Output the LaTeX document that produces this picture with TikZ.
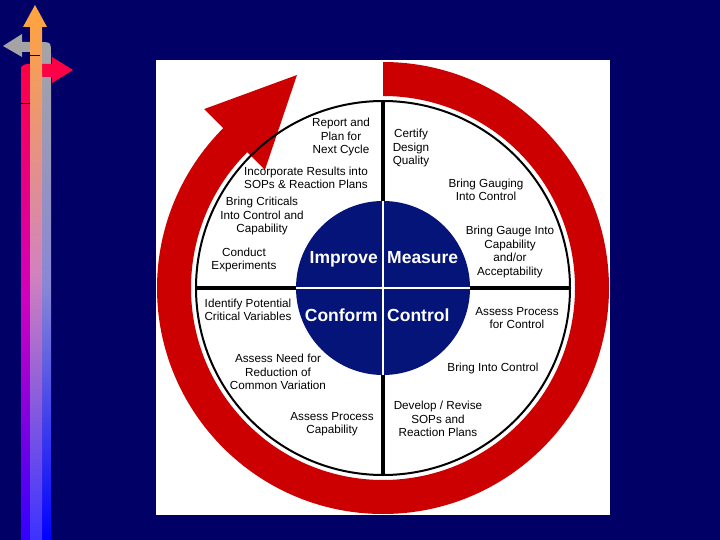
\documentclass[tikz,border=0pt]{standalone}
\usepackage{fontspec}
\setmainfont{Liberation Sans}
\definecolor{slidebg}{RGB}{0,0,102}
\definecolor{cyclered}{RGB}{204,0,0}
\definecolor{hubblue}{RGB}{5,20,120}
\tikzset{
  stage/.style={align=center, inner sep=0pt, font=\fontsize{11.7}{13.6}\selectfont},
  phase/.style={text=white, inner sep=0pt, font=\fontsize{17.5}{20}\selectfont\bfseries},
  spoke/.style={line width=3.5pt},
}
\begin{document}
\begin{tikzpicture}[x=1pt,y=-1pt]
\fill[slidebg] (0,0) rectangle (720,540);
% side bars
\shade[top color={rgb,255:red,165;green,165;blue,165}, bottom color={rgb,255:red,0;green,0;blue,255},
  middle color={rgb,255:red,135;green,135;blue,215}]
  (42,540) -- (42,52) -- (22,52) -- (22,57) -- (3,46) -- (22,34) -- (22,42) -- (39,42)
  .. controls (51,42) .. (51,54) -- (51,540) -- cycle;
\shade[top color={rgb,255:red,255;green,0;blue,64}, bottom color={rgb,255:red,50;green,0;blue,255},
  middle color={rgb,255:red,210;green,0;blue,190}]
  (21,540) -- (21,77) .. controls (21,64) .. (34,64) -- (52,64) -- (52,57) -- (73,70)
  -- (52,83) -- (52,77) -- (30,77) -- (30,540) -- cycle;
\shade[top color={rgb,255:red,255;green,165;blue,60}, bottom color={rgb,255:red,60;green,50;blue,255},
  middle color={rgb,255:red,210;green,130;blue,190}]
  (30,540) -- (30,27) -- (23,27) -- (35,5) -- (47,27) -- (42,27) -- (42,540) -- cycle;
\draw[line width=0.6pt] (30,55) -- (40,55) (21,103) -- (30,103);
% panel
\fill[white] (156,60) rectangle (610,515);
\coordinate (hub) at (383,288);
\begin{scope}[y=1pt, shift={(hub)}]
% red cycle arrow
\fill[cyclered] (90:226) arc[start angle=90, end angle=-225, radius=226]
  -- (135:253) -- (-86,213) -- (135:167) -- (135:192)
  arc[start angle=-225, end angle=90, radius=192] -- cycle;
\coordinate (n) at (90:187);
\coordinate (s) at (270:187);
\coordinate (w) at (180:187);
\coordinate (e) at (0:187);
\draw[line width=2pt] (0,0) circle[radius=187];
\draw[spoke] (n) -- (s);
\draw[spoke] (w) -- (e);
% hub
\fill[hubblue] (0,0) circle[radius=87];
\draw[white, line width=2.5pt] (90:87) -- (270:87) (180:87) -- (0:87);
\end{scope}
\node[phase, anchor=base east] (improve) at (378,263) {Improve};
\node[phase, anchor=base west] (measure) at (387,263) {Measure};
\node[phase, anchor=base east] (conform) at (378,321) {Conform};
\node[phase, anchor=base west] (control) at (387,321) {Control};
% steps round the cycle
\node[stage] (report) at (341,137) {Report and\\Plan for\\Next Cycle};
\node[stage] (certify) at (411,148) {Certify\\Design\\Quality};
\node[stage] (gauging) at (486,190) {Bring Gauging\\Into Control};
\node[stage] (gauge) at (510,252) {Bring Gauge Into\\Capability\\and/or\\Acceptability};
\node[stage] (assesscontrol) at (517,318) {Assess Process\\for Control};
\node[stage] (intocontrol) at (493,368) {Bring Into Control};
\node[stage] (revise) at (438,419) {Develop / Revise\\SOPs and\\Reaction Plans};
\node[stage] (capability) at (332,424) {Assess Process\\Capability};
\node[stage] (reduction) at (278,372) {Assess Need for\\Reduction of\\Common Variation};
\node[stage] (identify) at (248,310) {Identify Potential\\Critical Variables};
\node[stage] (experiments) at (244,260) {Conduct\\Experiments};
\node[stage] (criticals) at (262,216) {Bring Criticals\\Into Control and\\Capability};
\node[stage] (incorporate) at (306,178) {Incorporate Results into\\SOPs \& Reaction Plans};
\end{tikzpicture}
\end{document}
